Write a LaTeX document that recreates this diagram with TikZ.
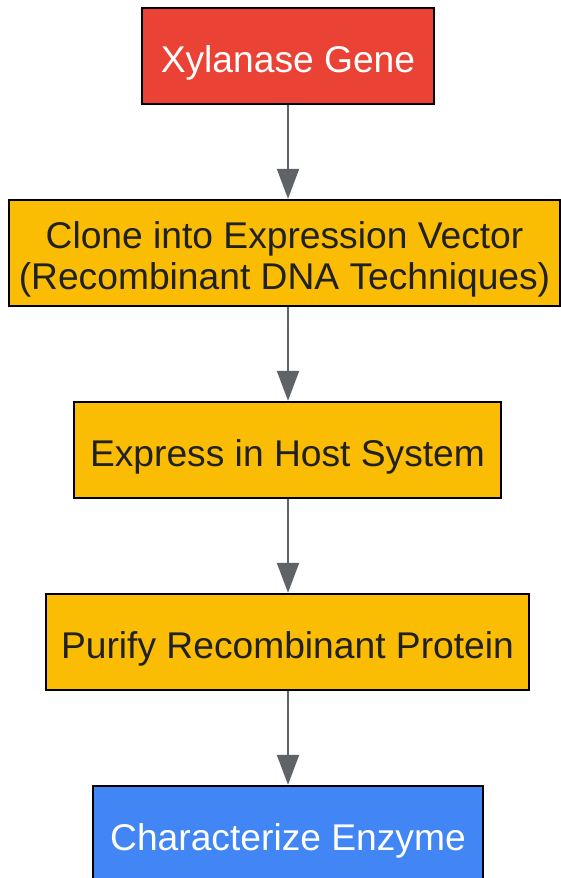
\documentclass[tikz,border=0pt]{standalone}
\usepackage{fontspec}
\setmainfont{Liberation Sans}
\usetikzlibrary{arrows.meta}

\definecolor{genered}{HTML}{EA4335}
\definecolor{stepyellow}{HTML}{FBBC04}
\definecolor{endblue}{HTML}{4285F4}
\definecolor{arrowgray}{HTML}{5F6368}
\definecolor{textdark}{HTML}{202124}

\tikzset{
  box/.style={draw=black,line width=1.2pt,rectangle,inner sep=0pt,align=center,
    font=\fontsize{18.6}{20.5}\selectfont,text height=20.5pt,text depth=3.7pt},
  redbox/.style={box,fill=genered,text=white},
  yellowbox/.style={box,fill=stepyellow,text=textdark},
  bluebox/.style={box,fill=endblue,text=white},
  flow/.style={draw=arrowgray,line width=1pt,-{Triangle[width=11pt,length=15pt]}}
}

\begin{document}
\begin{tikzpicture}[x=0.5pt,y=-0.5pt]
  \useasboundingbox (0,0) rectangle (561,878);
  \node (gene) at (288,56) [redbox,minimum width=146pt,minimum height=48pt] {Xylanase Gene};
  \node (clone) at (284.5,253) [yellowbox,minimum width=275.5pt,minimum height=53pt,
    text height=40pt,text depth=3.9pt]
    {Clone into Expression Vector\\(Recombinant DNA Techniques)};
  \node (express) at (287.5,450) [yellowbox,minimum width=213.5pt,minimum height=48pt] {Express in Host System};
  \node (purify) at (287.5,642) [yellowbox,minimum width=241.5pt,minimum height=48pt] {Purify Recombinant Protein};
  \node (char) at (288,834) [bluebox,minimum width=195pt,minimum height=48pt] {Characterize Enzyme};
  \draw[flow] (gene.south -| 288,0) to (clone.north -| 288,0);
  \draw[flow] (clone.south -| 288,0) to (express.north -| 288,0);
  \draw[flow] (express.south -| 288,0) to (purify.north -| 288,0);
  \draw[flow] (purify.south -| 288,0) to (char.north -| 288,0);
\end{tikzpicture}
\end{document}
